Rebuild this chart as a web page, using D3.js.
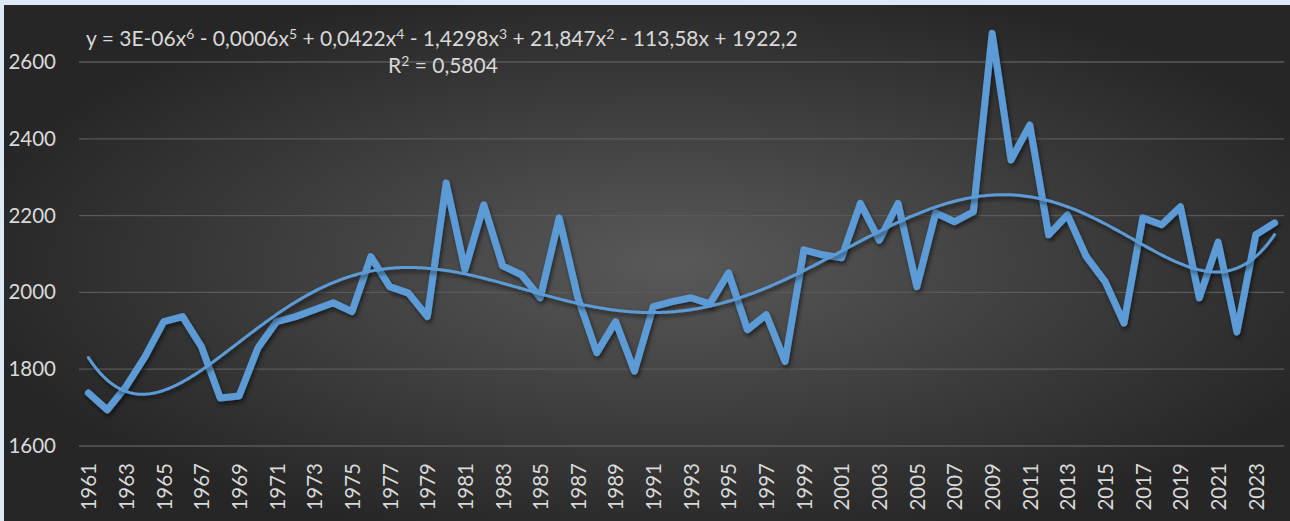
<!DOCTYPE html>
<html><head><meta charset="utf-8">
<script src="https://cdn.jsdelivr.net/npm/d3@7"></script>
<style>
html,body{margin:0;padding:0;background:#dde9f6;}
svg{display:block;}
</style></head>
<body>
<svg id="chart" width="1290" height="521"></svg>
<script>
const years = d3.range(1961, 2025);
const values = [
 1738,1694,1755,1832,1924,1937,1859,1725,1730,1855,
 1924,1937,1955,1973,1950,2093,2015,1998,1937,2285,
 2059,2228,2069,2046,1986,2194,1985,1843,1924,1795,
 1963,1976,1986,1970,2051,1903,1942,1820,2111,2098,
 2090,2232,2136,2232,2015,2207,2184,2210,2675,2345,
 2436,2150,2202,2093,2028,1920,2194,2176,2223,1986,
 2131,1897,2150,2181
];
const yTicks = [1600,1800,2000,2200,2400,2600];
const xTickLabels = years.filter((y,i)=>i%2===0).map(String);
const equationParts = [
 ["y = 3E-06x",""],["6","sup"],[" - 0,0006x",""],["5","sup"],[" + 0,0422x",""],["4","sup"],
 [" - 1,4298x",""],["3","sup"],[" + 21,847x",""],["2","sup"],[" - 113,58x + 1922,2",""]
];
const rParts = [["R",""],["2","sup"],[" = 0,5804",""]];

const svg = d3.select("#chart");
const defs = svg.append("defs");
const rg = defs.append("radialGradient").attr("id","bg").attr("cx","0.52").attr("cy","0.5").attr("r","0.56");
rg.append("stop").attr("offset","0").attr("stop-color","#595959");
rg.append("stop").attr("offset","1").attr("stop-color","#262626");
const f = defs.append("filter").attr("id","sh").attr("x","-5%").attr("y","-5%").attr("width","110%").attr("height","110%");
f.append("feDropShadow").attr("dx",1.5).attr("dy",3).attr("stdDeviation",2).attr("flood-color","#000").attr("flood-opacity",0.55);

svg.append("rect").attr("x",4).attr("y",5).attr("width",1286).attr("height",516).attr("fill","url(#bg)");

const x = d3.scalePoint().domain(years.map(String)).range([79,1284]).padding(0.5);
const y = d3.scaleLinear().domain([1600,2600]).range([446,62]);

// gridlines
svg.append("g").selectAll("line").data(yTicks).join("line")
  .attr("x1",79).attr("x2",1284).attr("y1",d=>y(d)).attr("y2",d=>y(d))
  .attr("stroke","#5a5a5a").attr("stroke-width",1.3);

// y axis
const yAx = svg.append("g").attr("transform","translate(79,0)")
  .call(d3.axisLeft(y).tickValues(yTicks).tickSize(0).tickPadding(23).tickFormat(d3.format("d")));
yAx.select(".domain").remove();
yAx.selectAll("text").attr("fill","#d9d9d9").style("font-family","Lato, 'Open Sans', sans-serif").style("font-size","20.5px");

// x axis
const xAx = svg.append("g").attr("transform","translate(0,446)")
  .call(d3.axisBottom(x).tickValues(xTickLabels).tickSize(0));
xAx.select(".domain").remove();
xAx.selectAll("text").attr("fill","#d9d9d9").style("font-family","Lato, 'Open Sans', sans-serif").style("font-size","20.5px")
  .attr("transform","rotate(-90)").attr("text-anchor","end").attr("x",-17).attr("y",0).attr("dy","0.36em");

// polynomial trend (degree 6 least squares fit from data)
function polyfit(xs, ys, deg){
  const n = deg+1;
  const A = Array.from({length:n},()=>new Array(n+1).fill(0));
  xs.forEach((xv,k)=>{
    const p=[]; for(let i=0;i<n;i++) p.push(Math.pow(xv,i));
    for(let i=0;i<n;i++){ for(let j=0;j<n;j++) A[i][j]+=p[i]*p[j]; A[i][n]+=p[i]*ys[k]; }
  });
  for(let c=0;c<n;c++){
    let piv=c; for(let r=c+1;r<n;r++) if(Math.abs(A[r][c])>Math.abs(A[piv][c])) piv=r;
    [A[c],A[piv]]=[A[piv],A[c]];
    for(let r=0;r<n;r++){ if(r===c) continue; const fct=A[r][c]/A[c][c]; for(let j=c;j<=n;j++) A[r][j]-=fct*A[c][j]; }
  }
  return A.map((row,i)=>row[n]/row[i]);
}
const mid = (years.length-1)/2;
const ts = years.map((d,i)=>(i-mid)/mid);
const coef = polyfit(ts, values, 6);
const evalP = t => coef.reduce((s,c,i)=>s+c*Math.pow(t,i),0);
const step = x.step();
const trendPts = d3.range(0, years.length-1+0.001, 0.1).map(i=>[x(String(years[0]))+i*step, y(evalP((i-mid)/mid))]);

svg.append("path").datum(values).attr("fill","none").attr("stroke","#5b9bd5").attr("stroke-width",7)
  .attr("stroke-linejoin","round").attr("stroke-linecap","round").attr("filter","url(#sh)")
  .attr("d", d3.line().x((d,i)=>x(String(years[i]))).y(d=>y(d)));

svg.append("path").datum(trendPts).attr("fill","none").attr("stroke","#5b9bd5").attr("stroke-width",3)
  .attr("stroke-linecap","round").attr("filter","url(#sh)")
  .attr("d", d3.line());

// equation text
function richText(parts, xPos, yPos){
  const t = svg.append("text").attr("x",xPos).attr("y",yPos).attr("fill","#d9d9d9")
    .style("font-family","Lato, 'Open Sans', sans-serif").style("font-size","21px");
  parts.forEach(([s,k],i)=>{
    const tsp = t.append("tspan").text(s);
    if(k==="sup") tsp.attr("dy",-7).style("font-size","14px");
    else if(i>0 && parts[i-1][1]==="sup") tsp.attr("dy",7);
  });
  return t;
}
richText(equationParts, 86, 46);
richText(rParts, 388, 73);
</script>
</body></html>
